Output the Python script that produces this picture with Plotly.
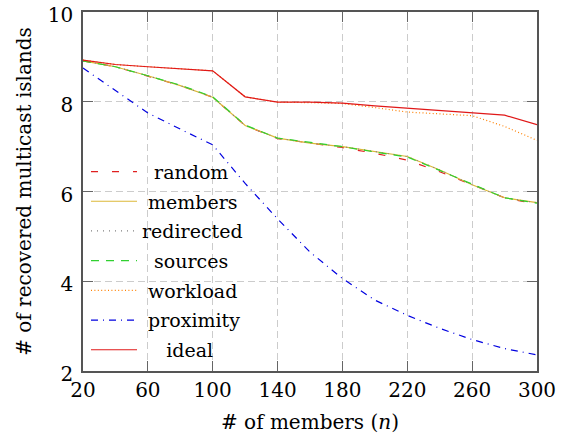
import plotly.graph_objects as go

members_n = [20, 40, 60, 80, 100, 120, 140, 160, 180, 200, 220, 240, 260, 280, 300]

random_v     = [8.91, 8.78, 8.57, 8.36, 8.10, 7.47, 7.18, 7.08, 6.98, 6.85, 6.70, 6.44, 6.15, 5.86, 5.72]
members_v    = [8.91, 8.78, 8.58, 8.36, 8.10, 7.47, 7.19, 7.08, 7.00, 6.89, 6.78, 6.48, 6.15, 5.86, 5.75]
redirected_v = [8.91, 8.78, 8.58, 8.36, 8.10, 7.47, 7.19, 7.08, 7.00, 6.89, 6.78, 6.48, 6.15, 5.86, 5.75]
sources_v    = [8.91, 8.78, 8.58, 8.37, 8.11, 7.48, 7.19, 7.09, 7.00, 6.88, 6.77, 6.47, 6.16, 5.86, 5.74]
workload_v   = [8.93, 8.83, 8.78, 8.74, 8.69, 8.11, 7.99, 7.98, 7.96, 7.87, 7.77, 7.73, 7.69, 7.45, 7.14]
proximity_v  = [8.75, 8.24, 7.75, 7.39, 7.04, 6.18, 5.39, 4.65, 4.06, 3.58, 3.24, 2.95, 2.70, 2.50, 2.36]
ideal_v      = [8.93, 8.83, 8.78, 8.74, 8.69, 8.11, 7.99, 7.99, 7.97, 7.91, 7.86, 7.80, 7.75, 7.70, 7.49]

x_ticks = [20, 60, 100, 140, 180, 220, 260, 300]
y_ticks = [2, 4, 6, 8, 10]

NB = "\u00a0"
series = [
    ("random",     random_v,     "#e02020", "7px,14px",          2),
    ("members",    members_v,    "#dcb838", "solid",             1),
    ("redirected", redirected_v, "#808080", "1px,5px",           0),
    ("sources",    sources_v,    "#30d030", "8px,7px",           2),
    ("workload",   workload_v,   "#ff8000", "1px,2.4px",         1),
    ("proximity",  proximity_v,  "#0000e0", "7px,5px,1px,5px",   1),
    ("ideal",      ideal_v,      "#e01818", "solid",             4),
]

FONT = "DejaVu Serif"
fig = go.Figure()

L, R, T, B = 83, 28, 12, 65
H = 436
plot_h = H - T - B
plot_w = 565 - L - R

legends = {}
for i, (name, vals, color, dash, pad) in enumerate(series):
    lkey = "legend" if i == 0 else f"legend{i+1}"
    fig.add_trace(go.Scatter(
        x=members_n, y=vals, mode="lines", name=NB * pad + name,
        line=dict(color=color, width=1.2, dash=dash),
        legend=lkey, showlegend=True,
    ))
    py = 171.7 + 29.7 * i
    legends[lkey] = dict(
        x=(86 - L) / plot_w, y=(H - B - py) / plot_h,
        xanchor="left", yanchor="middle",
        bgcolor="rgba(0,0,0,0)", borderwidth=0,
        font=dict(family=FONT, size=19, color="black"),
        itemwidth=46, visible=True,
    )

axis_common = dict(
    showline=True, linecolor="#555555", linewidth=1.5, mirror="allticks",
    ticks="inside", ticklen=10, tickcolor="#666666", tickwidth=1,
    showgrid=True, gridcolor="#cccccc", gridwidth=1, griddash="7px,4px",
    zeroline=False, automargin=False, ticklabeloverflow="allow",
    tickfont=dict(family=FONT, size=20, color="black"),
)

fig.update_layout(
    template="none",
    width=565, height=436,
    showlegend=True,
    margin=dict(l=L, r=R, t=T, b=B, autoexpand=False),
    paper_bgcolor="white", plot_bgcolor="white",
    font=dict(family=FONT, size=20, color="black"),
    xaxis=dict(range=[20, 300], tickvals=x_ticks, ticktext=[str(v) for v in x_ticks],
               title=dict(text="# of members (<i>n</i>)", font=dict(family=FONT, size=20), standoff=14),
               ticklabelstandoff=0, **axis_common),
    yaxis=dict(range=[2, 10], tickvals=y_ticks, ticktext=[str(v) for v in y_ticks],
               title=dict(text="# of recovered multicast islands", font=dict(family=FONT, size=20), standoff=11),
               ticklabelstandoff=4, ticklabelshift=3, **axis_common),
    **legends,
)

fig.write_html("out.html")
